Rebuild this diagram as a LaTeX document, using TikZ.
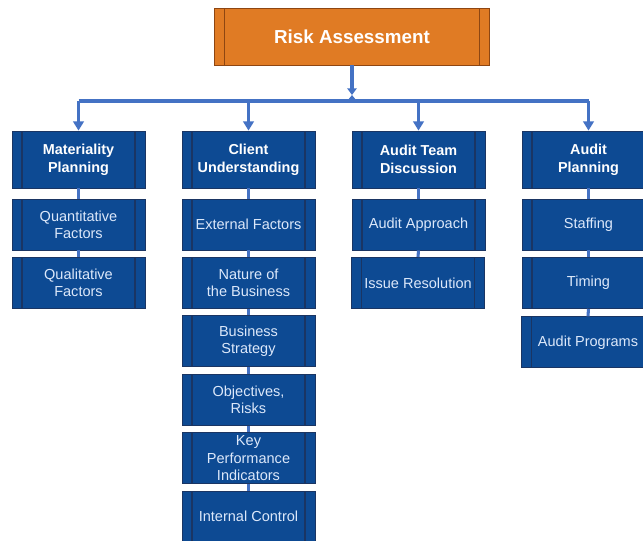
\documentclass[tikz,border=0pt]{standalone}
\usepackage{fontspec}
\setmainfont{Liberation Sans}
\usetikzlibrary{arrows.meta}
\definecolor{riskorange}{HTML}{E07B24}
\definecolor{riskedge}{HTML}{8E4612}
\definecolor{boxblue}{HTML}{0D4A93}
\definecolor{boxedge}{HTML}{1A3563}
\definecolor{linkblue}{HTML}{4472C4}
\definecolor{leaftext}{HTML}{DCE8FA}

\begin{document}
\begin{tikzpicture}[x=0.75pt,y=0.75pt,yscale=-1,xscale=1,
	proc/.style={draw=#1,line width=0.6pt,inner sep=0pt,align=center,
		path picture={\draw[#1,line width=0.9pt]
			([xshift=7.5pt]path picture bounding box.north west) -- ([xshift=7.5pt]path picture bounding box.south west)
			([xshift=-7.5pt]path picture bounding box.north east) -- ([xshift=-7.5pt]path picture bounding box.south east);}},
	proc/.default=boxedge,
	top/.style={proc=riskedge,fill=riskorange,minimum width=206.25pt,minimum height=42.75pt,
		text=white,font=\fontsize{14.1}{17}\selectfont\bfseries},
	hdr/.style={proc,fill=boxblue,minimum width=99.75pt,minimum height=42.75pt,
		text=white,font=\fontsize{10.8}{13.5}\selectfont\bfseries},
	leaf/.style={proc,fill=boxblue,minimum width=99.75pt,minimum height=38.25pt,
		text=leaftext,font=\fontsize{10.9}{13}\selectfont},
	link/.style={draw=linkblue,line width=2.3pt},
	drop/.style={link,-{Triangle[width=8pt,length=7pt]}}
	]
	\useasboundingbox (0,0) rectangle (643,540);
	\clip (0,0) rectangle (643,540);

	\node[top] (risk) at (352,36.5) {Risk Assessment};

	\node[hdr] (mat) at (78.5,159.5) {Materiality\\Planning};
	\node[hdr] (cli) at (248.5,159.5) {Client\\Understanding};
	\node[hdr] (team) at (418.5,159.5) {Audit Team\\Discussion};
	\node[hdr] (plan) at (588.5,159.5) {Audit\\Planning};

	\node[leaf] (mat1) at (78.5,224.5) {Quantitative\\Factors};
	\node[leaf] (mat2) at (78.5,282.9) {Qualitative\\Factors};

	\node[leaf] (cli1) at (248.5,224.5) {External Factors};
	\node[leaf] (cli2) at (248.5,282.9) {Nature of\\the Business};
	\node[leaf] (cli3) at (248.5,341.3) {Business\\Strategy};
	\node[leaf] (cli4) at (248.5,399.7) {Objectives,\\Risks};
	\node[leaf] (cli5) at (248.5,458.1) {Key\\Performance\\Indicators};
	\node[leaf] (cli6) at (248.5,516.5) {Internal Control};

	\node[leaf] (team1) at (418.5,224.5) {Audit Approach};
	\node[leaf] (team2) at (418,282.9) {Issue Resolution};

	\node[leaf] (plan1) at (588.5,224.5) {Staffing};
	\node[leaf] (plan2) at (588.5,282.9) {Timing};
	\node[leaf] (plan3) at (588,342.3) {Audit Programs};

	% stem and bar
	\coordinate (junc) at (352,101);
	\coordinate (mid) at (352,95);
	\draw[link,-{Triangle[width=7pt,length=5pt]}] (risk.south) -- (mid);
	\draw[link,-{Triangle[width=7pt,length=4.5pt]}] (junc) -- (mid);
	\draw[link] (mat.north |- junc) -- (plan.north |- junc);
	\foreach \h in {mat,cli,team,plan}
		\draw[drop] (\h.north |- junc) -- (\h.north);

	% stacked boxes
	\foreach \a/\b in {mat/mat1,mat1/mat2,cli/cli1,cli1/cli2,cli2/cli3,cli3/cli4,cli4/cli5,cli5/cli6,
		team/team1,team1/team2,plan/plan1,plan1/plan2,plan2/plan3}
		\draw[link] (\a.south) -- (\b.north);
\end{tikzpicture}
\end{document}
